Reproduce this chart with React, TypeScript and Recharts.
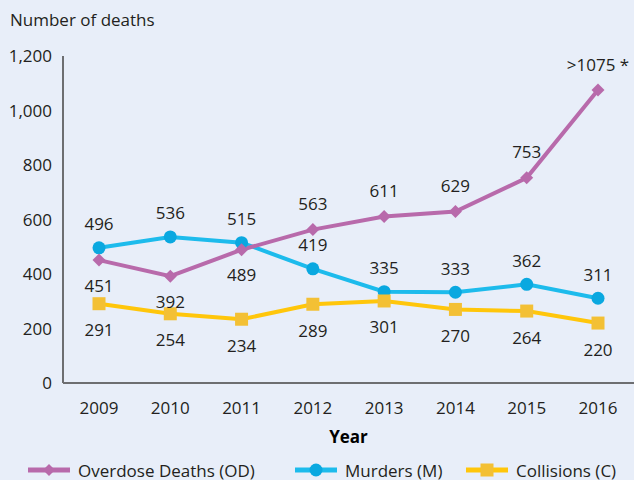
import React from "react";
import {
  LineChart,
  Line,
  XAxis,
  YAxis,
  Legend,
  LabelList,
} from "recharts";

const years = ["2009", "2010", "2011", "2012", "2013", "2014", "2015", "2016"];
const overdose = [451, 392, 489, 563, 611, 629, 753, 1075];
const overdoseLabels = ["451", "392", "489", "563", "611", "629", "753", ">1075 *"];
const murders = [496, 536, 515, 419, 335, 333, 362, 311];
const collisions = [291, 254, 234, 289, 301, 270, 264, 220];
const yTicks = [0, 200, 400, 600, 800, 1000, 1200];

const OD_COLOR = "#b86aab";
const M_LINE = "#1dbbec";
const M_DOT = "#0aa8e0";
const C_LINE = "#ffc60b";
const C_DOT = "#f3c035";
const TEXT = "#231f20";
const AXIS = "#6d6e71";
const BG = "#e8eef9";
const FONT = '"Open Sans", sans-serif';

const data = years.map((year, i) => ({
  year,
  od: overdose[i],
  m: murders[i],
  c: collisions[i],
}));

function Diamond({ cx, cy }: any) {
  if (cx == null || cy == null) return null;
  return (
    <path
      d={`M${cx},${cy - 6.5}L${cx + 6.5},${cy}L${cx},${cy + 6.5}L${cx - 6.5},${cy}Z`}
      fill={OD_COLOR}
    />
  );
}

function Dot({ cx, cy }: any) {
  if (cx == null || cy == null) return null;
  return <circle cx={cx} cy={cy} r={6.5} fill={M_DOT} />;
}

function Square({ cx, cy }: any) {
  if (cx == null || cy == null) return null;
  return <rect x={cx - 6.5} y={cy - 6.5} width={13} height={13} fill={C_DOT} />;
}

function makeLabel(dy: (i: number) => number, text?: string[]) {
  return (props: any) => {
    const { x, y, index, value } = props;
    return (
      <text
        x={x}
        y={y + dy(index)}
        textAnchor="middle"
        dominantBaseline="central"
        fill={TEXT}
        fontSize={17}
        fontFamily={FONT}
      >
        {text ? text[index] : value}
      </text>
    );
  };
}

function LegendIcon({ color, marker }: { color: string; marker: React.ReactNode }) {
  return (
    <svg width={42} height={16} style={{ marginRight: 8 }}>
      <line x1={0} y1={8} x2={42} y2={8} stroke={color} strokeWidth={5} strokeLinecap="round" />
      {marker}
    </svg>
  );
}

function renderLegend() {
  const item = (left: number, icon: React.ReactNode, label: string) => (
    <div
      style={{
        position: "absolute",
        left,
        top: 0,
        display: "flex",
        alignItems: "center",
        height: 24,
        fontSize: 17,
        color: TEXT,
        fontFamily: FONT,
        whiteSpace: "nowrap",
      }}
    >
      {icon}
      {label}
    </div>
  );
  return (
    <div style={{ position: "relative", width: 634, height: 24 }}>
      {item(
        28,
        <LegendIcon color={OD_COLOR} marker={<path d="M21,2L27,8L21,14L15,8Z" fill={OD_COLOR} />} />,
        "Overdose Deaths (OD)"
      )}
      {item(
        295,
        <LegendIcon color={M_LINE} marker={<circle cx={21} cy={8} r={6.5} fill={M_DOT} />} />,
        "Murders (M)"
      )}
      {item(
        466,
        <LegendIcon color={C_LINE} marker={<rect x={14.5} y={1.5} width={13} height={13} fill={C_DOT} />} />,
        "Collisions (C)"
      )}
    </div>
  );
}

export default function App() {
  return (
    <div
      style={{
        position: "absolute",
        left: 0,
        top: 0,
        width: 634,
        height: 480,
        background: BG,
        overflow: "hidden",
        fontFamily: FONT,
      }}
    >
      <div
        style={{
          position: "absolute",
          left: 10,
          top: 8,
          fontSize: 17,
          color: TEXT,
          lineHeight: "24px",
        }}
      >
        Number of deaths
      </div>
      <LineChart
        width={634}
        height={480}
        data={data}
        margin={{ top: 56, right: 0, bottom: 43, left: 0 }}
      >
        <XAxis
          dataKey="year"
          padding={{ left: 36, right: 36 }}
          axisLine={{ stroke: AXIS, strokeWidth: 2 }}
          tickLine={false}
          tickSize={0}
          tickMargin={19}
          height={30}
          tick={{ fill: TEXT, fontSize: 17, fontFamily: FONT }}
          label={{
            value: "Year",
            position: "bottom",
            offset: 18,
            fill: "#000",
            fontSize: 17,
            fontWeight: 700,
            fontFamily: FONT,
          }}
        />
        <YAxis
          domain={[0, 1200]}
          ticks={yTicks}
          width={63}
          axisLine={{ stroke: AXIS, strokeWidth: 2 }}
          tickLine={false}
          tickSize={0}
          tickMargin={11}
          tick={{ fill: TEXT, fontSize: 17, fontFamily: FONT }}
          tickFormatter={(v: number) => v.toLocaleString("en-US")}
        />
        <Legend
          verticalAlign="bottom"
          content={renderLegend}
          wrapperStyle={{ bottom: -2, left: 0, width: 634, height: 24 }}
        />
        <Line
          dataKey="m"
          stroke={M_LINE}
          strokeWidth={4}
          dot={<Dot />}
          activeDot={false}
          isAnimationActive={false}
        >
          <LabelList dataKey="m" content={makeLabel(() => -24)} />
        </Line>
        <Line
          dataKey="od"
          stroke={OD_COLOR}
          strokeWidth={4}
          dot={<Diamond />}
          activeDot={false}
          isAnimationActive={false}
        >
          <LabelList
            dataKey="od"
            content={makeLabel((i) => (i < 3 ? 25 : -26), overdoseLabels)}
          />
        </Line>
        <Line
          dataKey="c"
          stroke={C_LINE}
          strokeWidth={4}
          dot={<Square />}
          activeDot={false}
          isAnimationActive={false}
        >
          <LabelList dataKey="c" content={makeLabel(() => 26)} />
        </Line>
      </LineChart>
    </div>
  );
}
